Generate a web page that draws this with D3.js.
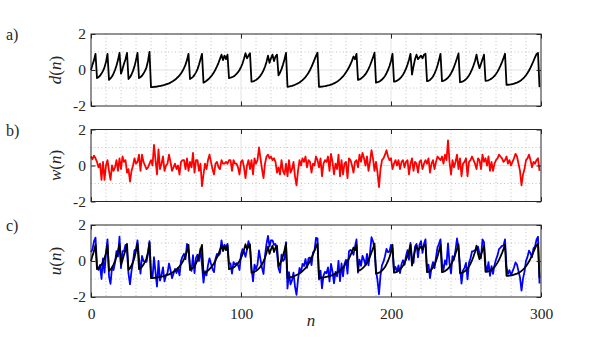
<!DOCTYPE html>
<html>
<head>
<meta charset="utf-8">
<script src="https://cdn.jsdelivr.net/npm/d3@7"></script>
<style>
body{margin:0;background:#fff}
</style>
</head>
<body>
<div id="chart"></div>
<script>
// desired signal d(n)
var dSeries = [0,0.3,0.55,0.9,-0.45,-0.4,-0.32,-0.2,-0.05,0.15,
0.45,0.9,-0.55,-0.47,-0.36,-0.2,0.0,0.25,0.55,0.95,
-0.2,0.05,0.35,0.6,0.95,-0.5,-0.4,-0.25,-0.05,0.2,
0.55,0.95,-0.45,-0.4,-0.32,-0.2,-0.05,0.15,0.5,1.0,
-0.95,-0.95,-0.94,-0.93,-0.92,-0.9,-0.89,-0.87,-0.85,-0.83,
-0.8,-0.77,-0.74,-0.7,-0.65,-0.6,-0.54,-0.47,-0.39,-0.3,
-0.19,-0.06,0.1,0.3,0.55,0.9,-0.5,-0.45,-0.38,-0.27,
-0.13,0.05,0.3,0.6,0.9,-0.7,-0.66,-0.6,-0.53,-0.45,
-0.36,-0.25,-0.12,0.03,0.2,0.4,0.62,0.85,0.55,0.8,
0.6,0.85,-0.45,-0.43,-0.4,-0.36,-0.3,-0.22,-0.12,0.0,
0.16,0.36,0.62,0.93,0.65,0.8,0.93,-0.65,-0.63,-0.6,
-0.55,-0.49,-0.41,-0.31,-0.18,-0.02,0.18,0.45,0.8,0.4,
0.65,0.85,0.5,0.75,0.85,-0.3,-0.15,0.05,0.3,0.6,
0.95,-0.93,-0.92,-0.9,-0.88,-0.85,-0.82,-0.78,-0.74,-0.69,
-0.63,-0.56,-0.48,-0.39,-0.28,-0.15,0.0,0.17,0.37,0.58,
0.78,0.96,-0.93,-0.93,-0.92,-0.91,-0.9,-0.88,-0.86,-0.84,
-0.81,-0.78,-0.74,-0.7,-0.65,-0.59,-0.52,-0.44,-0.35,-0.25,
-0.13,0.0,0.15,0.32,0.52,0.75,0.6,0.9,-0.55,-0.52,
-0.47,-0.41,-0.33,-0.23,-0.1,0.06,0.25,0.47,0.7,0.96,
-0.7,-0.68,-0.65,-0.6,-0.53,-0.44,-0.33,-0.18,0.0,0.22,
0.5,0.9,-0.65,-0.63,-0.59,-0.54,-0.47,-0.38,-0.26,-0.11,
0.07,0.3,0.57,0.9,-0.25,0.2,0.6,0.85,0.6,0.7,
0.8,0.65,0.85,0.9,-0.62,-0.6,-0.55,-0.47,-0.36,-0.2,
0.0,0.25,0.55,0.9,-0.62,-0.6,-0.56,-0.5,-0.42,-0.32,
-0.19,-0.03,0.17,0.4,0.65,0.92,-0.68,-0.66,-0.63,-0.58,
-0.51,-0.42,-0.3,-0.15,0.03,0.25,0.5,0.85,0.4,0.1,
0.35,0.6,0.85,-0.6,-0.59,-0.57,-0.53,-0.48,-0.41,-0.33,
-0.22,-0.09,0.06,0.24,0.44,0.66,0.9,-0.82,-0.82,-0.81,
-0.8,-0.78,-0.76,-0.73,-0.7,-0.66,-0.61,-0.55,-0.48,-0.39,
-0.29,-0.17,-0.03,0.13,0.31,0.5,0.7,0.88,0.95,-0.95]

// noise w(n)
var wSeries = [0.5,0.35,0.55,0.4,0.2,-0.1,0.1,-0.8,0.2,-0.8,
0.0,0.3,-0.3,-0.8,0.0,-0.3,-0.1,0.3,-0.3,0.4,
-0.2,0.5,0.2,0.3,-0.4,-0.2,-0.9,-0.3,0.0,0.4,
0.1,0.2,0.6,-0.3,0.6,0.2,0.0,-0.2,-0.1,0.1,
0.3,0.0,1.15,0.3,-0.5,0.9,-0.2,0.1,0.5,-0.3,
0.0,0.1,0.6,0.2,-0.3,-0.1,0.1,-0.2,0.0,-0.5,
0.2,0.3,0.3,-0.2,0.4,-0.3,0.2,-0.1,0.7,-0.4,
0.3,0.3,-0.3,0.1,-1.15,-0.5,0.1,-0.2,0.3,0.6,
0.2,-0.2,-0.5,0.1,0.2,-0.1,-0.2,0.3,0.1,0.1,
0.2,0.1,0.3,0.3,-0.3,0.3,0.1,0.1,-0.1,-0.5,
0.2,0.3,-0.1,-0.7,0.0,0.3,-0.2,0.3,-0.5,0.4,
0.1,0.3,1.0,0.4,-0.2,-0.7,0.1,0.5,0.6,0.4,
0.5,0.3,0.4,0.2,-0.4,-0.1,-0.5,0.3,-0.3,-0.5,
0.1,-0.6,0.3,-0.4,-0.2,0.2,-0.6,-1.1,-0.3,0.3,
0.0,0.4,0.2,0.5,-0.1,0.3,0.2,-0.4,0.1,0.0,
0.5,0.3,-0.1,0.4,-0.6,0.1,0.3,0.2,0.5,-0.3,
0.65,0.2,-0.5,0.1,-0.2,0.6,-0.6,0.3,-0.5,0.1,
0.2,-0.7,0.4,0.3,0.0,-0.4,0.2,0.3,-0.1,0.6,
0.2,0.7,0.4,0.0,0.5,-0.3,0.2,0.85,0.4,-0.3,
0.2,-0.4,-1.2,-0.2,0.3,0.4,0.6,0.85,0.5,0.3,
0.4,-0.2,0.1,0.3,0.0,0.3,-0.2,0.2,0.3,-0.1,
0.2,0.3,-0.5,0.1,0.4,-0.3,0.2,0.1,-0.4,0.2,
0.3,-0.2,0.1,0.3,0.1,0.4,-0.4,0.1,0.3,-0.2,
0.2,0.5,0.4,0.3,0.5,0.1,0.6,0.3,1.4,0.2,
-0.5,0.3,-0.1,0.2,0.6,-0.2,0.4,-0.6,0.1,0.2,
0.4,-0.6,0.2,0.3,0.5,0.3,0.1,-0.2,0.4,0.3,
-0.2,0.6,0.2,0.4,0.0,0.5,-0.3,0.2,-0.3,0.1,
0.3,0.4,0.6,0.5,0.4,0.2,0.3,0.5,0.1,0.3,
0.0,0.2,0.4,0.65,0.5,0.1,-0.3,-1.1,-0.5,-0.2,
0.3,0.4,0.6,0.3,-0.1,0.2,0.1,0.3,0.4,-0.3]

// observed u(n)
var uSeries = [0.5,0.65,1.1,1.3,-0.25,-0.5,-0.22,-1.0,0.15,-0.65,
0.45,1.2,-0.85,-1.27,-0.36,-0.5,-0.1,0.55,0.25,1.35,
-0.4,0.55,0.55,0.9,0.55,-0.7,-1.3,-0.55,-0.05,0.6,
0.65,1.15,0.15,-0.7,0.28,0.0,-0.05,-0.05,0.4,1.1,
-0.65,-0.95,0.21,-0.63,-1.42,0.0,-1.09,-0.77,-0.35,-1.13,
-0.8,-0.67,-0.14,-0.5,-0.95,-0.7,-0.44,-0.67,-0.39,-0.8,
0.01,0.24,0.4,0.1,0.95,0.6,-0.3,-0.55,0.32,-0.67,
0.17,0.35,0.0,0.7,-0.25,-1.2,-0.56,-0.8,-0.23,0.15,
-0.16,-0.45,-0.62,0.13,0.4,0.3,0.42,1.15,0.65,0.9,
0.8,0.95,-0.15,-0.13,-0.7,-0.06,-0.2,-0.12,-0.22,-0.5,
0.36,0.66,0.52,0.23,0.65,1.1,0.73,-0.35,-1.13,-0.2,
-0.45,-0.19,0.59,0.09,-0.38,-0.72,0.28,0.95,1.4,0.8,
1.15,1.15,0.9,0.95,0.45,-0.4,-0.65,0.35,0.0,0.1,
1.05,-1.53,-0.62,-1.3,-1.08,-0.65,-1.42,-1.88,-1.04,-0.39,
-0.63,-0.16,-0.28,0.11,-0.38,0.15,0.2,-0.23,0.47,0.58,
1.28,1.26,-1.03,-0.53,-1.52,-0.81,-0.6,-0.68,-0.36,-1.14,
-0.16,-0.58,-1.24,-0.6,-0.85,0.01,-1.12,-0.14,-0.85,-0.15,
0.07,-0.7,0.55,0.62,0.52,0.35,0.8,1.2,-0.65,0.08,
-0.27,0.29,0.07,-0.23,0.4,-0.24,0.45,1.32,1.1,0.66,
-0.5,-1.08,-1.85,-0.8,-0.23,-0.04,0.27,0.67,0.5,0.52,
0.9,0.7,-0.55,-0.33,-0.59,-0.24,-0.67,-0.18,0.04,-0.21,
0.27,0.6,0.07,1.0,0.15,-0.1,0.8,0.95,0.2,0.9,
1.1,0.45,0.95,1.2,-0.52,-0.2,-0.95,-0.37,-0.06,-0.4,
0.2,0.75,0.95,1.2,-0.12,-0.5,0.04,-0.2,0.98,-0.12,
-0.69,0.27,0.07,0.6,1.25,0.72,-0.28,-1.26,-0.53,-0.38,
-0.11,-1.02,-0.1,0.15,0.53,0.55,0.6,0.65,0.8,0.4,
0.15,1.2,1.05,-0.2,-0.59,-0.07,-0.83,-0.28,-0.71,-0.23,
0.08,0.31,0.66,0.74,0.84,0.86,1.2,-0.32,-0.72,-0.51,
-0.8,-0.58,-0.36,-0.08,-0.2,-0.56,-0.91,-1.65,-0.98,-0.59,
0.01,0.23,0.57,0.43,0.21,0.7,0.8,1.18,1.35,-1.25]

var xTicks = [0,100,200,300]
var yTicks = [-2,0,2]
var xMinorGrid = [10,20,30,40,50,60,70,80,90,110,120,130,140,150,160,170,180,190,210,220,230,240,250,260,270,280,290]
var yMinorGrid = [-1,1]
var panelLetters = ["a)","b)","c)"]
var yNames = ["d","w","u"]

var width = 598
var height = 343
var left = 91
var right = 541
var panelHeight = 72
var panelTops = [34,129.5,225]
var ink = "#262626"

var svg = d3.select("#chart").append("svg").attr("width",width).attr("height",height)
var xScale = d3.scaleLinear().domain([0,300]).range([left,right])

function serifText(sel,size){
    return sel.style("font-family","'Liberation Serif'").style("font-size",size+"px")
}

function drawPanel(i,seriesList){
    var top = panelTops[i]
    var yScale = d3.scaleLinear().domain([-2,2]).range([top+panelHeight,top])
    var g = svg.append("g")

    // dotted minor grid
    g.selectAll(".vminor").data(xMinorGrid).enter().append("line")
        .attr("x1",function(d){return xScale(d)}).attr("x2",function(d){return xScale(d)})
        .attr("y1",top).attr("y2",top+panelHeight)
        .attr("stroke","#c4c4c4").attr("stroke-width",1).attr("stroke-dasharray","1,2.5")
    g.selectAll(".hminor").data(yMinorGrid).enter().append("line")
        .attr("x1",left).attr("x2",right)
        .attr("y1",function(d){return yScale(d)}).attr("y2",function(d){return yScale(d)})
        .attr("stroke","#c4c4c4").attr("stroke-width",1).attr("stroke-dasharray","1,2.5")
    // solid major grid
    g.selectAll(".vmajor").data([100,200]).enter().append("line")
        .attr("x1",function(d){return xScale(d)}).attr("x2",function(d){return xScale(d)})
        .attr("y1",top).attr("y2",top+panelHeight)
        .attr("stroke","#e3e3e3").attr("stroke-width",1)
    g.append("line").attr("x1",left).attr("x2",right)
        .attr("y1",yScale(0)).attr("y2",yScale(0))
        .attr("stroke","#e3e3e3").attr("stroke-width",1)

    var line = d3.line()
        .x(function(d,j){return xScale(j)})
        .y(function(d){return yScale(d)})
    for(var s in seriesList){
        g.append("path").datum(seriesList[s].data)
            .attr("d",line)
            .attr("fill","none")
            .attr("stroke",seriesList[s].color)
            .attr("stroke-width",1.8)
            .attr("stroke-linejoin","round")
    }

    // axes, ticks pointing inward like matlab
    var yAxis = d3.axisLeft(yScale).tickValues(yTicks).tickSize(-4.5).tickPadding(5)
        .tickFormat(function(d){return d})
    var ya = g.append("g").attr("transform","translate("+left+",0)").call(yAxis)
        .attr("font-family",null).attr("font-size",null)
    ya.select(".domain").remove()
    serifText(ya.selectAll("text"),15.5).attr("fill",ink)
    ya.selectAll("line").attr("stroke",ink)
    var yAxisR = d3.axisRight(yScale).tickValues(yTicks).tickSize(-4.5).tickFormat("")
    var yr = g.append("g").attr("transform","translate("+right+",0)").call(yAxisR)
    yr.select(".domain").remove()
    yr.selectAll("line").attr("stroke",ink)

    var xAxis = d3.axisBottom(xScale).tickValues(xTicks).tickSize(-4.5)
        .tickFormat(i==2 ? function(d){return d} : "").tickPadding(11)
    var xa = g.append("g").attr("transform","translate(0,"+(top+panelHeight)+")").call(xAxis)
        .attr("font-family",null).attr("font-size",null)
    xa.select(".domain").remove()
    xa.selectAll("line").attr("stroke",ink)
    serifText(xa.selectAll("text"),15.5).attr("fill",ink)
    var xAxisT = d3.axisTop(xScale).tickValues(xTicks).tickSize(-4.5).tickFormat("")
    var xt = g.append("g").attr("transform","translate(0,"+top+")").call(xAxisT)
    xt.select(".domain").remove()
    xt.selectAll("line").attr("stroke",ink)

    g.append("rect").attr("x",left).attr("y",top)
        .attr("width",right-left).attr("height",panelHeight)
        .attr("fill","none").attr("stroke",ink).attr("stroke-width",1)

    // y label like d(n)
    var lab = g.append("text")
        .attr("transform","translate(61,"+(top+panelHeight/2)+") rotate(-90)")
        .attr("text-anchor","middle").attr("fill",ink)
    serifText(lab,17)
    lab.append("tspan").style("font-style","italic").text(yNames[i])
    lab.append("tspan").text("(")
    lab.append("tspan").style("font-style","italic").text("n")
    lab.append("tspan").text(")")

    serifText(g.append("text").text(panelLetters[i])
        .attr("x",6).attr("y",top+6).attr("fill",ink),16)
}

drawPanel(0,[{data:dSeries,color:"#000"}])
drawPanel(1,[{data:wSeries,color:"#ff0000"}])
drawPanel(2,[{data:uSeries,color:"#0000ff"},{data:dSeries,color:"#000"}])

serifText(svg.append("text").text("n").attr("x",311).attr("y",326).attr("fill",ink),17)
    .style("font-style","italic").attr("text-anchor","middle")
</script>
</body>
</html>
